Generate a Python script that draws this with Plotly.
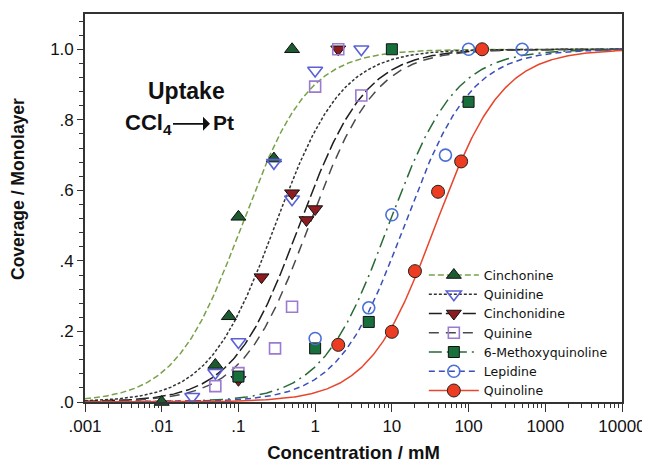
import numpy as np
import plotly.graph_objects as go

# ---------------- data ----------------
names = ["Cinchonine", "Quinidine", "Cinchonidine", "Quinine",
         "6-Methoxyquinoline", "Lepidine", "Quinoline"]

cinchonine_c = [0.01, 0.05, 0.075, 0.1, 0.29, 0.5]
cinchonine_v = [0.0, 0.105, 0.243, 0.525, 0.69, 1.0]

quinidine_c = [0.025, 0.05, 0.1, 0.29, 0.5, 1.0, 4.0]
quinidine_v = [0.015, 0.083, 0.17, 0.678, 0.575, 0.94, 1.0]

cinchonidine_c = [0.1, 0.2, 0.5, 0.77, 1.0, 2.0]
cinchonidine_v = [0.063, 0.354, 0.592, 0.516, 0.547, 1.0]

quinine_c = [0.05, 0.1, 0.3, 0.5, 1.0, 2.0, 4.0]
quinine_v = [0.045, 0.082, 0.152, 0.27, 0.894, 1.0, 0.869]

methoxy_c = [0.1, 1.0, 5.0, 10.0, 100.0]
methoxy_v = [0.072, 0.152, 0.227, 1.0, 0.851]

lepidine_c = [1.0, 5.0, 10.0, 50.0, 100.0, 500.0]
lepidine_v = [0.18, 0.267, 0.531, 0.70, 1.0, 1.0]

quinoline_c = [2.0, 10.0, 20.0, 40.0, 80.0, 150.0]
quinoline_v = [0.162, 0.199, 0.371, 0.596, 0.682, 1.0]

# half-coverage concentrations (mM) of the Langmuir fit curves
half_cov = [0.11, 0.30, 0.62, 0.83, 9.0, 14.5, 37.0]

x_tickvals = [0.001, 0.01, 0.1, 1, 10, 100, 1000, 10000]
x_ticktext = [".001", ".01", ".1", "1", "10", "100", "1000", "10000"]
y_tickvals = [0, 0.2, 0.4, 0.6, 0.8, 1.0]
y_ticktext = [".0", ".2", ".4", ".6", ".8", "1.0"]

# ---------------- styles ----------------
FONT = "Liberation Sans, Arial, Helvetica, sans-serif"
line_colors = ["#78a24a", "#333333", "#1e1e1e", "#4a4a4a", "#2a6a36", "#3a4fb8", "#e8452c"]
line_dashes = ["6px,3px", "3px,2px", "13px,4px", "10px,7px",
               "13px,5px,2px,5px", "6px,4px", "solid"]
symbols = ["triangle-up", "triangle-down-open", "triangle-down", "square-open",
           "square", "circle-open", "circle"]
m_fill = ["#1d5a30", "#5a60d6", "#8e1b20", "#9a7bd0", "#17703c", "#4a70d6", "#ec3c22"]
m_line = ["#111111", "#5a60d6", "#111111", "#9a7bd0", "#111111", "#4a70d6", "#222222"]
m_size = [13, 13, 13, 11, 11, 12, 13]

pts = [(cinchonine_c, cinchonine_v), (quinidine_c, quinidine_v),
       (cinchonidine_c, cinchonidine_v), (quinine_c, quinine_v),
       (methoxy_c, methoxy_v), (lepidine_c, lepidine_v),
       (quinoline_c, quinoline_v)]

fig = go.Figure()
grid = np.logspace(-3, 4, 500)

# fit curves
for i in range(len(names)):
    K = 1.0 / half_cov[i]
    theta = K * grid / (1 + K * grid)
    fig.add_trace(go.Scatter(x=grid, y=theta, mode="lines", showlegend=False,
                             line=dict(color=line_colors[i], width=1.5, dash=line_dashes[i]),
                             hoverinfo="skip"))

# data points
for i in range(len(names)):
    c, v = pts[i]
    is_open = symbols[i].endswith("open")
    fig.add_trace(go.Scatter(x=c, y=v, mode="markers", showlegend=False, cliponaxis=False,
                             marker=dict(symbol=symbols[i], size=m_size[i],
                                         color=m_fill[i],
                                         line=dict(color=m_line[i], width=1.6 if is_open else 1.0))))

# legend entries
for i in range(len(names)):
    is_open = symbols[i].endswith("open")
    fig.add_trace(go.Scatter(x=[None], y=[None], mode="lines+markers", name=names[i],
                             line=dict(color=line_colors[i], width=1.5, dash=line_dashes[i]),
                             marker=dict(symbol=symbols[i], size=m_size[i], color=m_fill[i],
                                         line=dict(color=m_line[i], width=1.6 if is_open else 1.0))))

axis_font = dict(family=FONT, size=17, color="#111")

fig.update_xaxes(type="log", range=[-3, 4], tickmode="array",
                 tickvals=x_tickvals, ticktext=x_ticktext,
                 ticks="outside", ticklen=8, tickwidth=1.2, tickcolor="#333",
                 minor=dict(ticks="outside", ticklen=4, tickwidth=1, tickcolor="#333",
                            tickmode="array",
                            tickvals=[m * 10.0 ** e for e in range(-3, 4) for m in range(2, 10)]),
                 showline=True, linecolor="#333", linewidth=1.6, mirror=True,
                 showgrid=False, zeroline=False, tickfont=axis_font, automargin=False,
                 title=dict(text="<b>Concentration / mM</b>",
                            font=dict(family=FONT, size=18.5, color="#111"),
                            standoff=11))
fig.update_yaxes(range=[0, 1.1], tickmode="array", tickvals=y_tickvals, ticktext=y_ticktext,
                 ticks="outside", ticklen=6, tickwidth=1.2, tickcolor="#333",
                 minor=dict(ticks="outside", ticklen=4, tickwidth=1, tickcolor="#333", dtick=0.04),
                 showline=True, linecolor="#333", linewidth=1.6, mirror=True,
                 showgrid=False, zeroline=False, tickfont=axis_font, automargin=False)

# y-axis title (placed a little above the middle, as in the original)
fig.add_annotation(x=-0.1248, y=0.549, xref="paper", yref="paper",
                   text="<b>Coverage / Monolayer</b>", textangle=-90, showarrow=False,
                   xanchor="center", yanchor="middle",
                   font=dict(family=FONT, size=17.5, color="#111"))

ann_font = dict(family=FONT, size=22, color="#111")
fig.add_annotation(x=0.189, y=0.802, xref="paper", yref="paper", text="<b>Uptake</b>",
                   xanchor="center", yanchor="middle", showarrow=False,
                   font=dict(family=FONT, size=23, color="#111"))
# "CCl4" with the arrow pointing towards "Pt"
fig.add_annotation(x=0.2328, y=0.717, xref="paper", yref="paper", text="<b>CCl<sub>4</sub></b>",
                   showarrow=True, ax=-62, ay=0, arrowhead=1, arrowsize=1.3,
                   arrowwidth=1.8, arrowcolor="#111", standoff=0,
                   font=ann_font)
fig.add_annotation(x=0.2345, y=0.720, xref="paper", yref="paper", text="<b>Pt</b>",
                   showarrow=False, font=dict(family=FONT, size=21, color="#111"),
                   xanchor="left", yanchor="middle")

# the page adds an 8 px body margin, so the figure is 8 px smaller and the margins compensate
fig.update_layout(width=642, height=456, template="plotly_white",
                  paper_bgcolor="white", plot_bgcolor="white",
                  margin=dict(l=77, r=28, t=6, b=62, autoexpand=False),
                  legend=dict(x=0.631, y=0.365, xanchor="left", yanchor="top",
                              bgcolor="rgba(0,0,0,0)", itemwidth=50,
                              font=dict(family="DejaVu Sans, " + FONT, size=12.5, color="#111"),
                              tracegroupgap=0),
                  showlegend=True)

fig.write_html("out.html")
